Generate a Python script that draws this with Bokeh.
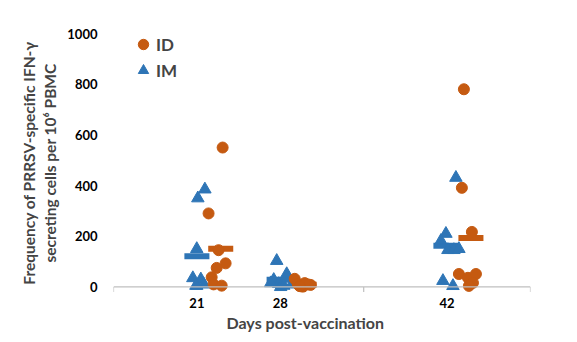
from bokeh.plotting import figure
from bokeh.models import Range1d, FixedTicker, Span, Legend, LegendItem, ColumnDataSource, Title
from bokeh.embed import file_html
from bokeh.resources import INLINE

# ---- data ----
days = [21, 28, 42]
tick_labels = ["21", "28", "42"]

# ID group (orange circles): jittered x positions (days) and values
id_x_21 = [23.16, 21.98, 22.82, 23.41, 22.66, 22.24, 22.40, 23.08]
id_y_21 = [550, 290, 145, 93, 75, 38, 10, 5]
id_x_28 = [29.21, 29.46, 30.30, 29.88, 29.71, 30.55, 30.05, 29.63]
id_y_28 = [32, 12, 10, 0, 5, 8, 15, 3]
id_x_42 = [43.41, 43.24, 44.08, 42.99, 43.75, 44.42, 44.17, 43.83]
id_y_42 = [780, 391, 217, 51, 36, 51, 16, 4]

# IM group (blue triangles)
im_x_21 = [21.67, 21.08, 20.99, 20.66, 21.33, 20.99, 21.58, 20.92]
im_y_21 = [385, 350, 150, 35, 30, 5, 10, 5]
im_x_28 = [27.70, 28.54, 27.45, 27.87, 28.03, 27.19, 28.29, 28.96]
im_y_28 = [103, 51, 28, 12, 0, 15, 5, 10]
im_x_42 = [42.74, 41.90, 41.48, 42.07, 42.57, 42.99, 41.65, 42.49]
im_y_42 = [431, 210, 182, 146, 146, 150, 24, 4]

# group means (bars)
id_mean_x = [23.0, 30.0, 44.0]
id_mean = [151, 9, 193]
im_mean_x = [21.0, 27.9, 41.9]
im_mean = [121, 28, 162]

ORANGE = "#C55A11"
BLUE = "#2E75B6"
FONT = "Lato"

p = figure(width=577, height=342, output_backend="svg", toolbar_location=None,
           x_range=Range1d(14, 49), y_range=Range1d(-22, 1000),
           min_border_left=113, min_border_right=47, min_border_top=33,
           min_border_bottom=50)
p.outline_line_color = None
p.grid.visible = False
p.background_fill_color = "white"
p.border_fill_color = "white"

# axes
p.xaxis.ticker = FixedTicker(ticks=days)
p.xaxis.major_label_overrides = {d: s for d, s in zip(days, tick_labels)}
p.xaxis.axis_line_color = None
p.xaxis.major_tick_line_color = None
p.xaxis.minor_tick_line_color = None
p.xaxis.major_tick_out = 0
p.xaxis.major_tick_in = 0
p.xaxis.major_label_standoff = 5
p.xaxis.major_label_text_font = FONT
p.xaxis.major_label_text_font_style = "bold"
p.xaxis.major_label_text_font_size = "13px"
p.xaxis.major_label_text_color = "black"

p.add_layout(Title(text="Days post-vaccination", align="left", offset=113,
                   text_font=FONT, text_font_style="bold", text_font_size="16px",
                   standoff=0), "below")

p.yaxis.ticker = FixedTicker(ticks=[0, 200, 400, 600, 800, 1000])
p.yaxis.axis_line_color = None
p.yaxis.major_tick_line_color = None
p.yaxis.minor_tick_line_color = None
p.yaxis.major_label_standoff = 10
p.yaxis.major_label_text_font = FONT
p.yaxis.major_label_text_font_style = "bold"
p.yaxis.major_label_text_font_size = "13px"
p.yaxis.major_label_text_color = "black"
p.yaxis.axis_label = "Frequency of PRRSV-specific IFN-\u03b3\nsecreting cells per 10\u2076 PBMC"
p.yaxis.axis_label_text_font = FONT
p.yaxis.axis_label_text_font_style = "bold"
p.yaxis.axis_label_text_font_size = "15.5px"
p.yaxis.axis_label_standoff = 5

# baseline and small tick marks
p.add_layout(Span(location=0, dimension="width", line_color="#BFBFBF", line_width=1.2))
p.segment(x0=[14, 35, 49], y0=[0, 0, 0], x1=[14, 35, 49], y1=[-20, -20, -20],
          line_color="#BFBFBF", line_width=1.2)

# mean bars
p.segment(x0=[x - 1.05 for x in im_mean_x], x1=[x + 1.05 for x in im_mean_x],
          y0=im_mean, y1=im_mean, line_color=BLUE, line_width=6, line_cap="butt")
p.segment(x0=[x - 1.05 for x in id_mean_x], x1=[x + 1.05 for x in id_mean_x],
          y0=id_mean, y1=id_mean, line_color=ORANGE, line_width=6, line_cap="butt")

im_src = ColumnDataSource(dict(x=im_x_21 + im_x_28 + im_x_42, y=im_y_21 + im_y_28 + im_y_42))
id_src = ColumnDataSource(dict(x=id_x_21 + id_x_28 + id_x_42, y=id_y_21 + id_y_28 + id_y_42))

r_im = p.scatter("x", "y", source=im_src, marker="triangle", size=12.5,
                 fill_color=BLUE, line_color=BLUE)
r_id = p.scatter("x", "y", source=id_src, marker="circle", size=11,
                 fill_color=ORANGE, line_color=ORANGE)

legend = Legend(items=[LegendItem(label="ID", renderers=[r_id]),
                       LegendItem(label="IM", renderers=[r_im])],
                location=(17, 209), padding=0, margin=0, spacing=-2,
                glyph_width=26, glyph_height=26, label_standoff=0,
                border_line_color=None, background_fill_alpha=0,
                label_text_font=FONT, label_text_font_style="bold",
                label_text_font_size="17px")
p.add_layout(legend)

open("out.html", "w").write(file_html(p, INLINE))
